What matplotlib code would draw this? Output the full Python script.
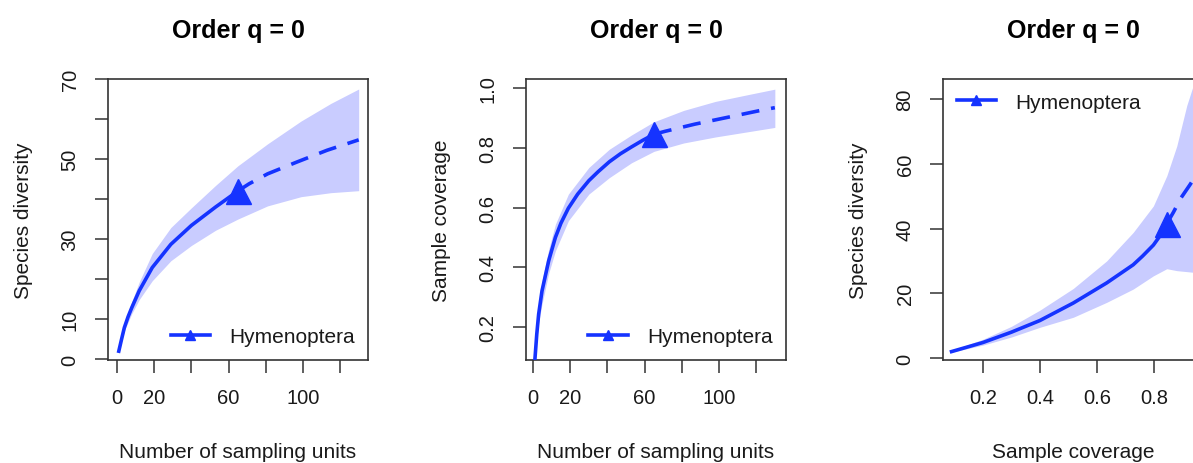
import matplotlib
matplotlib.use("Agg")
import matplotlib.pyplot as plt

plt.rcParams['font.family'] = ['Liberation Sans', 'DejaVu Sans']

# panel 1: species diversity vs sampling units
units_int = [1, 2.5, 4, 6, 8, 12, 19, 29, 40, 53, 65]
div_int = [2.0, 5.0, 7.9, 10.6, 12.9, 17.1, 22.9, 28.7, 33.4, 38.0, 42.0]
units_ext = [65, 71, 81, 97, 113, 130]
div_ext = [42.0, 43.8, 46.3, 49.3, 52.2, 54.8]
units_band = [1, 4, 8, 12, 19, 29, 40, 53, 65, 81, 99, 115, 130]
div_upper = [2.2, 8.7, 14.4, 19.3, 26.4, 32.9, 37.8, 43.4, 48.3, 53.8, 59.5, 63.9, 67.5]
div_lower = [1.8, 7.1, 11.4, 14.9, 19.6, 24.6, 28.4, 32.2, 35.0, 38.3, 40.6, 41.6, 42.1]

# panel 2: sample coverage vs sampling units
cunits_int = [1, 2, 3, 4.8, 8.4, 12, 15, 19, 24, 30, 35, 41, 47, 53, 59, 65]
cov_int = [0.093, 0.177, 0.243, 0.321, 0.422, 0.50, 0.548, 0.598, 0.645, 0.690,
           0.72, 0.753, 0.78, 0.803, 0.825, 0.845]
cunits_ext = [65, 71, 87, 108.6, 124.7, 130]
cov_ext = [0.845, 0.855, 0.879, 0.907, 0.928, 0.934]
cunits_band = [1, 2, 3, 4.8, 8.4, 12, 19, 30, 41, 53, 65, 81, 98, 115, 130]
cov_upper = [0.105, 0.2, 0.27, 0.355, 0.46, 0.544, 0.645, 0.734, 0.795, 0.843, 0.887,
             0.925, 0.955, 0.977, 0.996]
cov_lower = [0.085, 0.155, 0.215, 0.277, 0.38, 0.455, 0.556, 0.645, 0.70, 0.75, 0.788,
             0.816, 0.836, 0.853, 0.868]

# panel 3: species diversity vs sample coverage
sc_int = [0.09, 0.2, 0.3, 0.4, 0.517, 0.634, 0.727, 0.76, 0.798, 0.82, 0.845]
sdiv_int = [2.0, 4.8, 8.0, 11.6, 17.0, 23.2, 28.8, 31.5, 34.9, 37.6, 41.5]
sc_ext = [0.845, 0.868, 0.895, 0.926, 0.937]
sdiv_ext = [41.5, 45.0, 49.5, 53.5, 55.0]
sc_band = [0.09, 0.2, 0.3, 0.4, 0.517, 0.634, 0.727, 0.798, 0.845, 0.88, 0.915, 0.937]
sdiv_upper = [2.4, 5.8, 9.8, 14.8, 21.5, 30.0, 38.8, 47.0, 56.3, 65.5, 78.0, 84.0]
sdiv_lower = [1.8, 4.0, 6.5, 9.5, 12.6, 17.2, 21.3, 25.4, 27.6, 27.0, 26.7, 26.5]

LINE = '#1533ff'
BAND = '#c9ccff'
TXT = '#1a1a1a'
W, H = 1193, 464

fig = plt.figure(figsize=(W / 100, H / 100), dpi=100)


def make_ax(left_px):
    return fig.add_axes([left_px / W, 1 - 361 / H, 260 / W, 281 / H])


def style(ax, title, xlabel, ylabel):
    ax.set_title(title, fontsize=18, fontweight='bold', pad=30)
    ax.set_xlabel(xlabel, fontsize=15, labelpad=25, color=TXT)
    ax.set_ylabel(ylabel, fontsize=15, labelpad=20, color=TXT)
    ax.tick_params(direction='out', length=9.5, width=1.1, labelsize=14.5,
                   colors='#333333', labelcolor=TXT, pad=11)
    ax.tick_params(axis='y', labelrotation=90)
    for lab in ax.get_yticklabels():
        lab.set_va('center')
    for sp in ax.spines.values():
        sp.set_linewidth(1.2)
        sp.set_color('#333333')


def draw(ax, xb, lo, up, xi, yi, xe, ye):
    ax.fill_between(xb, lo, up, color=BAND, lw=0, zorder=1)
    ax.plot(xi, yi, color=LINE, lw=2.6, zorder=3,
            marker='^', markevery=[len(xi) - 1], ms=18)
    ax.plot(xe, ye, color=LINE, lw=2.6, ls=(0, (5, 3.3)), zorder=3)


def legend(ax, loc):
    handle = plt.Line2D([0], [0], color=LINE, lw=2.6, marker='^', ms=7)
    ax.legend([handle], ['Hymenoptera'], loc=loc, frameon=False, fontsize=15,
              handlelength=1.9, handletextpad=0.9, borderaxespad=0.25,
              labelcolor=TXT)


# panel 1
ax1 = make_ax(108)
draw(ax1, units_band, div_lower, div_upper, units_int, div_int, units_ext, div_ext)
ax1.set_xlim(-4.8, 135)
ax1.set_ylim(-0.2, 70)
ax1.set_xticks(range(0, 121, 20))
ax1.set_xticklabels(['0', '20', '', '60', '', '100', ''])
ax1.set_yticks(range(0, 71, 10))
ax1.set_yticklabels(['0', '10', '', '30', '', '50', '', '70'])
style(ax1, 'Order q = 0', 'Number of sampling units', 'Species diversity')
legend(ax1, 'lower right')

# panel 2
ax2 = make_ax(526)
draw(ax2, cunits_band, cov_lower, cov_upper, cunits_int, cov_int, cunits_ext, cov_ext)
ax2.set_xlim(-3.8, 136)
ax2.set_ylim(0.09, 1.03)
ax2.set_xticks(range(0, 121, 20))
ax2.set_xticklabels(['0', '20', '', '60', '', '100', ''])
ax2.set_yticks([0.2, 0.4, 0.6, 0.8, 1.0])
ax2.set_yticklabels(['0.2', '0.4', '0.6', '0.8', '1.0'])
style(ax2, 'Order q = 0', 'Number of sampling units', 'Sample coverage')
legend(ax2, 'lower right')

# panel 3 (its right edge runs past the figure, as in the original)
ax3 = make_ax(943)
draw(ax3, sc_band, sdiv_lower, sdiv_upper, sc_int, sdiv_int, sc_ext, sdiv_ext)
ax3.set_xlim(0.06, 0.972)
ax3.set_ylim(-0.6, 86.2)
ax3.set_xticks([0.2, 0.4, 0.6, 0.8])
ax3.set_xticklabels(['0.2', '0.4', '0.6', '0.8'])
ax3.set_yticks(range(0, 81, 20))
ax3.set_yticklabels(['0', '20', '40', '60', '80'])
style(ax3, 'Order q = 0', 'Sample coverage', 'Species diversity')
legend(ax3, 'upper left')

fig.savefig('out.png', dpi=100)
